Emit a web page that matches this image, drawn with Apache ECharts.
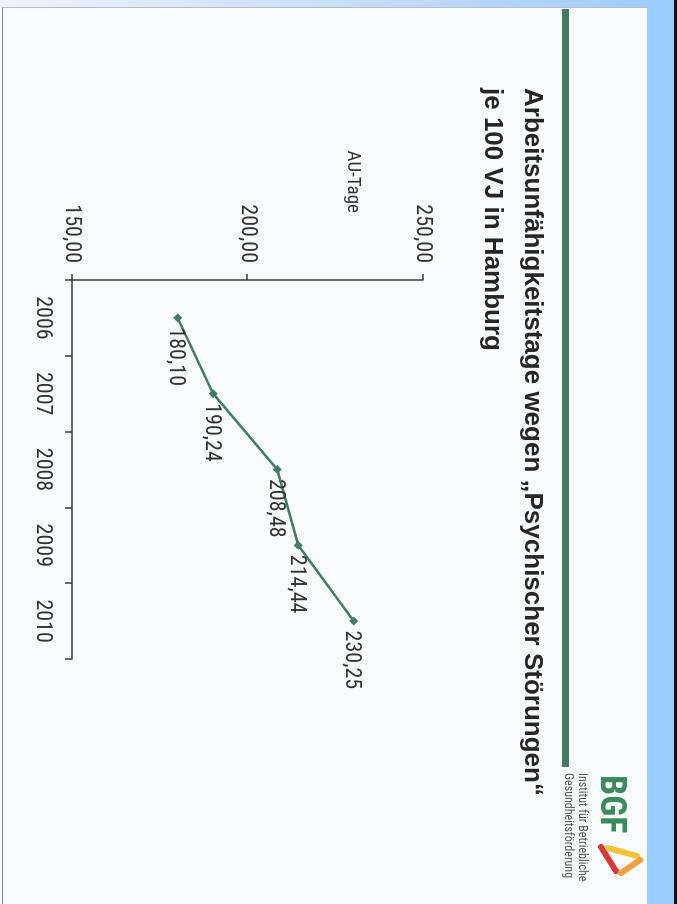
<!DOCTYPE html>
<html>
<head>
<meta charset="utf-8">
<script src="https://cdn.jsdelivr.net/npm/echarts@6/dist/echarts.min.js"></script>
<style>
  html, body { margin: 0; padding: 0; width: 677px; height: 904px; overflow: hidden; background: #ffffff; }
  #topband { position: absolute; left: 0; top: 0; width: 677px; height: 8px;
    background: linear-gradient(to right, #eef3fb 0%, #c9def7 50%, #9ccbfb 100%); }
  #page { position: absolute; left: 2px; top: 7px; width: 644px; height: 897px;
    background: #fafbfd; border-left: 1px solid #8a8a8a; border-top: 1px solid #b8bcc4; }
  #rightstrip { position: absolute; left: 647px; top: 0; width: 27px; height: 904px; background: #99ccff; }
  #rightedge { position: absolute; left: 674px; top: 0; width: 3px; height: 904px; background: #111; }
  #rot { position: absolute; left: 0; top: 0; width: 904px; height: 677px;
    transform-origin: 0 0; transform: translate(677px, 0) rotate(90deg); }
</style>
</head>
<body>
<div id="topband"></div>
<div id="page"></div>
<div id="rightstrip"></div>
<div id="rightedge"></div>
<div id="rot"></div>
<script>
// ---- data ----
const years = ['2006', '2007', '2008', '2009', '2010'];
const values = [180.10, 190.24, 208.48, 214.44, 230.25];
const axisMin = 150;
const axisMax = 250;
const axisStep = 50;
const titleLine1 = 'Arbeitsunfähigkeitstage wegen \u201EPsychischer Störungen\u201C';
const titleLine2 = 'je 100 VJ in Hamburg';
const axisName = 'AU-Tage';
const logoText = 'BGF';
const logoSub1 = 'Institut für Betriebliche';
const logoSub2 = 'Gesundheitsförderung';

const narrow = '"Liberation Sans Narrow", "Arial Narrow", "Roboto Condensed", "DejaVu Sans Condensed", "Liberation Sans", sans-serif';
const fmt = v => Number(v).toFixed(2).replace('.', ',');
const green = '#427d62';

const chart = echarts.init(document.getElementById('rot'), null, { renderer: 'canvas', width: 904, height: 677 });
chart.setOption({
  backgroundColor: 'transparent',
  animation: false,
  grid: { left: 280, right: 245, top: 254, bottom: 72, containLabel: false },
  xAxis: {
    type: 'category',
    data: years,
    boundaryGap: true,
    axisLine: { show: true, lineStyle: { color: '#3a3a3a', width: 1.5 } },
    axisTick: { show: true, length: 7, alignWithLabel: false, lineStyle: { color: '#3a3a3a', width: 1.5 } },
    axisLabel: { margin: 18, color: '#333', fontSize: 22, fontFamily: narrow },
    splitLine: { show: false }
  },
  yAxis: {
    type: 'value',
    min: axisMin, max: axisMax, interval: axisStep,
    axisLine: { show: true, lineStyle: { color: '#3a3a3a', width: 1.5 } },
    axisTick: { show: true, length: 6, lineStyle: { color: '#3a3a3a', width: 1.5 } },
    axisLabel: { margin: 17, color: '#333', fontSize: 22, fontFamily: narrow, formatter: fmt },
    splitLine: { show: false }
  },
  series: [{
    type: 'line',
    data: values,
    symbol: 'diamond',
    symbolSize: 9,
    lineStyle: { color: green, width: 2.5 },
    itemStyle: { color: green },
    label: {
      show: true, position: 'right', distance: 5, offset: [0, 2],
      color: '#333', fontSize: 22, fontFamily: narrow,
      formatter: p => fmt(p.value)
    }
  }],
  graphic: [
    { type: 'rect', shape: { x: 9, y: 108, width: 758, height: 7 }, style: { fill: green } },
    { type: 'text', x: 88, y: 145, style: { text: titleLine1, font: 'bold 26px "Liberation Sans", Arial, sans-serif', fill: '#262626', verticalAlign: 'middle', align: 'left' } },
    { type: 'text', x: 88, y: 185, style: { text: titleLine2, font: 'bold 26px "Liberation Sans", Arial, sans-serif', fill: '#262626', verticalAlign: 'middle', align: 'left' } },
    { type: 'text', x: 213, y: 324, style: { text: axisName, fontSize: 19, fontFamily: narrow, fill: '#333', verticalAlign: 'middle', align: 'right' } },
    { type: 'text', x: 775, y: 67, style: { text: logoText, fontSize: 36, fontWeight: 'bold', fontFamily: narrow, fill: '#3b8a5d', verticalAlign: 'middle', align: 'left' } },
    { type: 'text', x: 773, y: 95, style: { text: logoSub1, fontSize: 12, fontFamily: narrow, fill: '#555', verticalAlign: 'middle', align: 'left' } },
    { type: 'text', x: 773, y: 109, style: { text: logoSub2, fontSize: 12, fontFamily: narrow, fill: '#555', verticalAlign: 'middle', align: 'left' } },
    { type: 'polyline', shape: { points: [[847, 76], [871, 61]] }, style: { stroke: '#d9383a', lineWidth: 6, lineCap: 'round', fill: null } },
    { type: 'polyline', shape: { points: [[848, 69], [856, 40]] }, style: { stroke: '#f2c43a', lineWidth: 6, lineCap: 'round', fill: null } },
    { type: 'polyline', shape: { points: [[860, 37], [873, 56]] }, style: { stroke: '#f0a040', lineWidth: 6, lineCap: 'round', fill: null } }
  ]
});
</script>
</body>
</html>
